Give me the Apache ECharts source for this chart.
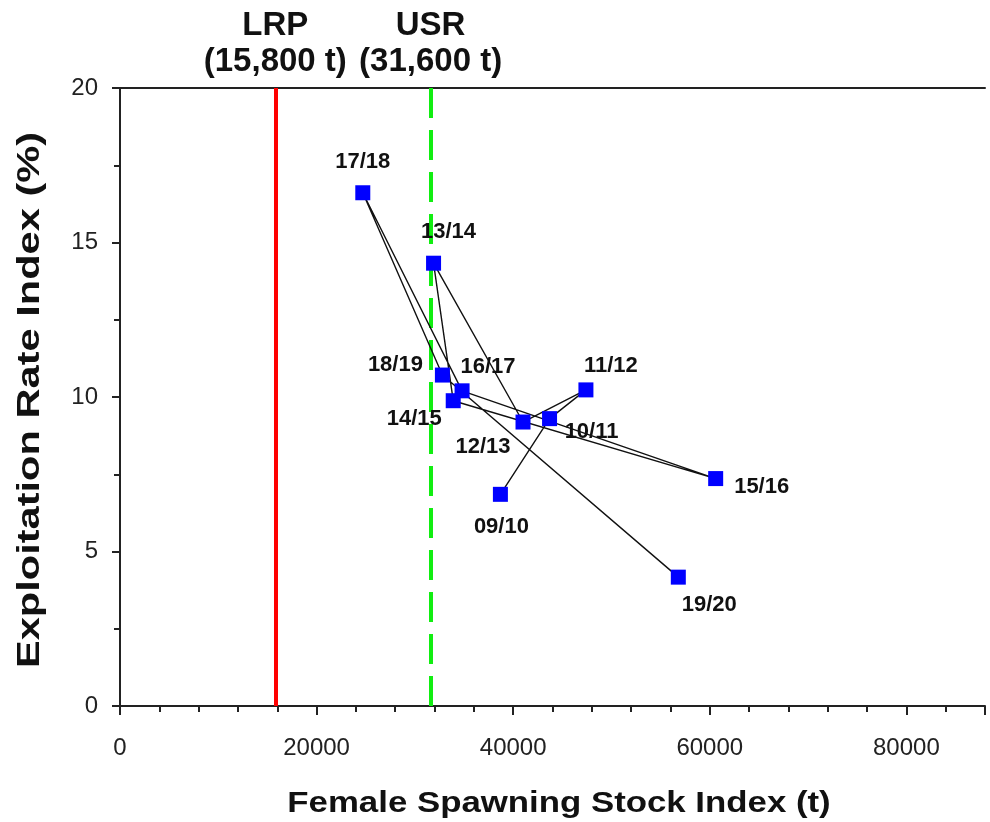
<!DOCTYPE html>
<html>
<head>
<meta charset="utf-8">
<script src="https://cdn.jsdelivr.net/npm/echarts@6/dist/echarts.min.js"></script>
<style>
html,body{margin:0;padding:0;background:#fff;}
#chart{width:990px;height:822px;}
</style>
</head>
<body>
<div id="chart"></div>
<script>
// ---- data ----
const seasons = ['09/10','10/11','11/12','12/13','13/14','14/15','15/16','16/17','17/18','18/19','19/20'];
const stockIndex = [38700, 43700, 47400, 41000, 31900, 33900, 60600, 34800, 24700, 32800, 56800];
const exploitRate = [6.85, 9.30, 10.23, 9.19, 14.33, 9.88, 7.36, 10.20, 16.61, 10.71, 4.17];
const refPoints = [15800, 31600];
const refNames = ['LRP', 'USR'];
const refLabels = ['(15,800 t)', '(31,600 t)'];
const xTickValues = [0, 20000, 40000, 60000, 80000];
const yTickValues = [0, 5, 10, 15, 20];

// ---- layout (label offsets relative to marker centre, px) ----
const labelOffsets = [[1,33],[42,13],[25,-24],[-40,25],[15,-31],[-39,18],[46,8],[26,-24],[0,-31],[-47,-10],[31,28]];

const FONT = 'Arial, "Liberation Sans", sans-serif';
const X_MAX = 88000;

const pts = seasons.map((s, i) => ({
  value: [stockIndex[i], exploitRate[i]],
  name: s,
  label: {
    show: true,
    formatter: s,
    position: 'inside',
    offset: labelOffsets[i],
    fontFamily: FONT,
    fontWeight: 'bold',
    fontSize: 22,
    color: '#111'
  }
}));

const chart = echarts.init(document.getElementById('chart'), null, {renderer: 'canvas'});
chart.setOption({
  backgroundColor: '#fff',
  animation: false,
  grid: {left: 120, top: 88, bottom: 116, right: 5, show: false},
  xAxis: [
    {
      type: 'value', min: 0, max: X_MAX, interval: 20000,
      axisLine: {show: true, onZero: false, lineStyle: {color: '#222', width: 2}},
      axisTick: {show: true, length: 9, lineStyle: {color: '#222', width: 2}},
      minorTick: {show: true, splitNumber: 5, length: 6, lineStyle: {color: '#222', width: 2}},
      splitLine: {show: false},
      axisLabel: {
        fontFamily: FONT, fontSize: 24, color: '#222', margin: 30,
        showMaxLabel: false,
        formatter: v => xTickValues.indexOf(v) >= 0 ? String(v) : ''
      }
    },
    {
      type: 'value', position: 'top', min: 0, max: X_MAX, interval: 20000,
      axisLine: {show: true, onZero: false, lineStyle: {color: '#222', width: 2}},
      axisTick: {show: false}, axisLabel: {show: false}, splitLine: {show: false}
    }
  ],
  yAxis: {
    type: 'value', min: 0, max: 20, interval: 5,
    axisLine: {show: true, lineStyle: {color: '#222', width: 2}},
    axisTick: {show: true, length: 8, lineStyle: {color: '#222', width: 2}},
    minorTick: {show: true, splitNumber: 2, length: 6, lineStyle: {color: '#222', width: 2}},
    splitLine: {show: false},
    axisLabel: {
      fontFamily: FONT, fontSize: 24, color: '#222', margin: 22,
      formatter: v => yTickValues.indexOf(v) >= 0 ? String(v) : ''
    }
  },
  graphic: [
    {
      type: 'text', x: 559, y: 804,
      scaleX: 1.16,
      style: {
        text: 'Female Spawning Stock Index (t)',
        font: 'bold 30px ' + FONT, fill: '#111',
        textAlign: 'center', textVerticalAlign: 'middle'
      }
    },
    {
      type: 'text', x: 30, y: 400,
      rotation: Math.PI / 2,
      scaleX: 1.3,
      style: {
        text: 'Exploitation Rate Index (%)',
        font: 'bold 32px ' + FONT, fill: '#111',
        textAlign: 'center', textVerticalAlign: 'middle'
      }
    }
  ],
  series: [
    {
      type: 'line',
      z: 1,
      data: [[refPoints[0], 0]],
      showSymbol: false,
      lineStyle: {opacity: 0},
      markLine: {
        silent: true,
        z: 1,
        symbol: ['none', 'none'],
        animation: false,
        label: {
          show: true, position: 'end', distance: 8,
          fontFamily: FONT, fontWeight: 'bold', fontSize: 33, lineHeight: 36, color: '#111'
        },
        data: [
          {xAxis: refPoints[0], lineStyle: {color: '#ff0000', width: 4, type: 'solid'},
           label: {formatter: refNames[0] + '\n' + refLabels[0]}},
          {xAxis: refPoints[1], lineStyle: {color: '#11ee11', width: 4, type: [30, 12]},
           label: {formatter: refNames[1] + '\n' + refLabels[1]}}
        ]
      }
    },
    {
      type: 'line',
      z: 5,
      data: pts,
      symbol: 'rect',
      symbolSize: 15,
      showSymbol: true,
      itemStyle: {color: '#0000ff'},
      lineStyle: {color: '#111', width: 1.4}
    }
  ]
});
</script>
</body>
</html>
